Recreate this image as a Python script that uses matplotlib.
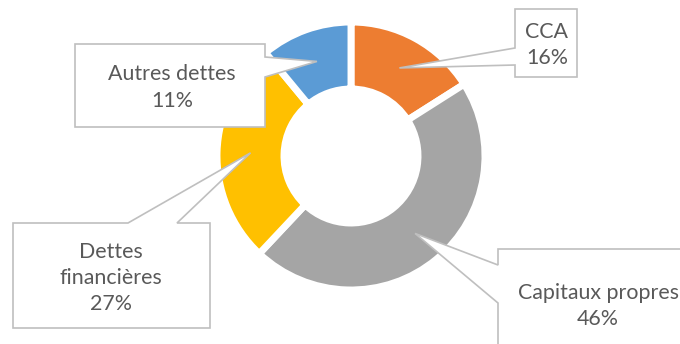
import numpy as np
import matplotlib
matplotlib.use("Agg")
import matplotlib.pyplot as plt
from matplotlib.patches import Polygon

categories = ["CCA", "Capitaux propres", "Dettes financières", "Autres dettes"]
display_labels = ["CCA", "Capitaux propres", "Dettes\nfinancières", "Autres dettes"]
values = [16, 46, 27, 11]
colors = ["#ED7D31", "#A5A5A5", "#FFC000", "#5B9BD5"]

W, H = 680, 344
fig = plt.figure(figsize=(6.8, 3.44), dpi=100)
ax = fig.add_axes([0, 0, 1, 1])

def Y(y):
    return H - y

cx, cy = 351, 156
R_out, R_in = 134, 67
ax.pie(values, colors=colors, startangle=90, counterclock=False,
       center=(cx, Y(cy)), radius=R_out,
       wedgeprops=dict(width=R_out - R_in, edgecolor="white", linewidth=5,
                       joinstyle="miter"))
ax.set_xlim(0, W)
ax.set_ylim(0, H)
ax.set_aspect("equal")
ax.axis("off")

# tip positions at mid angle, mid radius of each slice
total = sum(values)
cum = np.cumsum([0] + values[:-1])
tips = []
for c, v in zip(cum, values):
    frac = (c + v / 2) / total
    ang = np.deg2rad(90 - 360 * frac)
    r = (R_out + R_in) / 2
    tips.append((cx + r * np.cos(ang), Y(cy) + r * np.sin(ang)))

edge = "#BFBFBF"
txtc = "#595959"

def callout(pts, tip_index, tip):
    pts = [(x, Y(y)) for x, y in pts]
    pts.insert(tip_index, tip)
    ax.add_patch(Polygon(pts, closed=True, facecolor="white", edgecolor=edge,
                         linewidth=1.2, zorder=5, clip_on=True))

# CCA
callout([(515, 9), (577, 9), (577, 77), (515, 77), (515, 65), (515, 48)], 5, tips[0])
# Capitaux propres
callout([(498, 265), (498, 249), (700, 249), (700, 360), (498, 360), (498, 303)], 6, tips[1])
# Dettes financières
callout([(13, 223), (128, 223), (177, 223), (210, 223), (210, 328), (13, 328)], 2, tips[2])
# Autres dettes
callout([(75, 44), (265, 44), (265, 57), (265, 77), (265, 127), (75, 127)], 3, tips[3])

text_pos = [(547, 45), (598, 306), (111, 278), (172, 87.5)]
for lab, v, (x, y) in zip(display_labels, values, text_pos):
    ax.text(x, Y(y), f"{lab}\n{v}%", ha="center", va="center",
            multialignment="center", fontsize=15.4, color=txtc,
            family="Lato", linespacing=1.38, zorder=6)

fig.savefig("out.png", dpi=100)
